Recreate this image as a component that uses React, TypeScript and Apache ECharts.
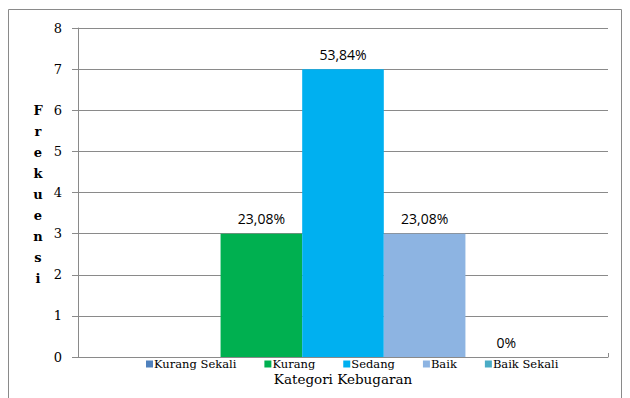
import React, { useEffect, useRef } from "react";
import * as echarts from "echarts";

const categories = ["Kurang Sekali", "Kurang", "Sedang", "Baik", "Baik Sekali"];
const frequencies = [0, 3, 7, 3, 0];
const percentLabels = ["", "23,08%", "53,84%", "23,08%", "0%"];
const colors = ["#4F81BD", "#00B050", "#00B0F0", "#8DB4E2", "#4BACC6"];
const yTicks = { min: 0, max: 8, interval: 1 };
const yTitle = "Frekuensi";
const xTitle = "Kategori Kebugaran";

export default function App() {
  const ref = useRef<HTMLDivElement>(null);
  useEffect(() => {
    if (!ref.current) return;
    const chart = echarts.init(ref.current, null, { renderer: "svg" });
    const serif = "DejaVu Serif";
    const sans = "Open Sans";
    chart.setOption({
      animation: false,
      backgroundColor: "#ffffff",
      grid: { left: 78, right: 22, top: 28, bottom: 41, containLabel: false },
      legend: {
        top: 358,
        left: 146,
        padding: 0,
        itemWidth: 7,
        itemHeight: 7,
        itemGap: 28,
        icon: "rect",
        data: categories,
        textStyle: { fontFamily: serif, fontSize: 11.5, color: "#000", padding: [0, 0, 0, -4] },
      },
      xAxis: {
        type: "category",
        data: [""],
        axisLine: { lineStyle: { color: "#8a8a8a", width: 1 } },
        axisTick: { show: true, alignWithLabel: false, length: 4, inside: true, lineStyle: { color: "#8a8a8a" } },
        axisLabel: { show: false },
      },
      yAxis: {
        type: "value",
        min: yTicks.min,
        max: yTicks.max,
        interval: yTicks.interval,
        axisLine: { show: true, lineStyle: { color: "#8a8a8a", width: 1 } },
        axisTick: { show: true, length: 6, lineStyle: { color: "#8a8a8a" } },
        axisLabel: { fontFamily: serif, fontSize: 13, color: "#000", margin: 16 },
        splitLine: { lineStyle: { color: "#8a8a8a", width: 1 } },
      },
      graphic: [
        {
          type: "rect",
          shape: { x: 8.5, y: 9.5, width: 613, height: 400 },
          style: { fill: "none", stroke: "#8a8a8a", lineWidth: 1 },
          silent: true,
          z: -10,
        },
        {
          type: "text",
          x: 38,
          y: 100,
          style: {
            text: yTitle.split("").join("\n"),
            fontFamily: serif,
            fontWeight: "bold",
            fontSize: 13,
            lineHeight: 21,
            align: "center",
            fill: "#000",
          },
        },
        {
          type: "text",
          x: 343,
          y: 379,
          style: {
            text: xTitle,
            fontFamily: serif,
            fontSize: 13.5,
            align: "center",
            verticalAlign: "middle",
            fill: "#000",
          },
        },
      ],
      series: categories.map((name, i) => ({
        type: "bar",
        name,
        data: [frequencies[i]],
        barGap: "0%",
        barCategoryGap: "23%",
        itemStyle: { color: colors[i] },
        label: {
          show: percentLabels[i] !== "",
          position: "top",
          distance: 8,
          formatter: () => percentLabels[i],
          fontFamily: sans,
          fontSize: 14,
          color: "#000",
        },
      })),
    });
    return () => chart.dispose();
  }, []);
  return (
    <div
      ref={ref}
      style={{ position: "fixed", left: 0, top: 0, width: 630, height: 398 }}
    />
  );
}
